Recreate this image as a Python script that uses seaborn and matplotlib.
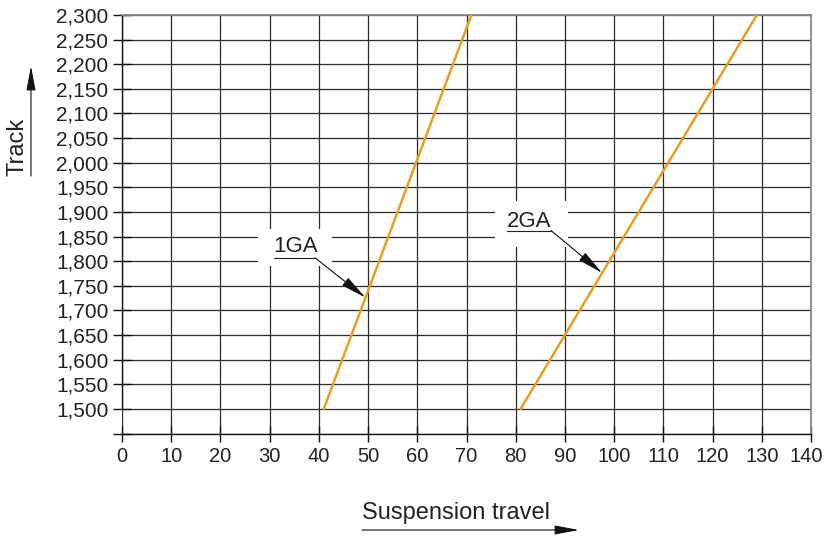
import matplotlib
matplotlib.use("Agg")
import matplotlib.pyplot as plt
import matplotlib.transforms as mtransforms
from matplotlib.patches import Rectangle, FancyArrowPatch
from matplotlib.ticker import FuncFormatter
import numpy as np
import pandas as pd
import seaborn as sns

# ---- data ----
series_names = ["1GA", "2GA"]
travel_1ga = [41, 71]
track_1ga = [1500, 2300]
travel_2ga = [81, 129]
track_2ga = [1500, 2300]
x_ticks = list(range(0, 141, 10))
y_ticks = list(range(1450, 2301, 50))
x_label = "Suspension travel"
y_label = "Track"

df = pd.DataFrame({
    "travel": travel_1ga + travel_2ga,
    "track": track_1ga + track_2ga,
    "series": [series_names[0]] * len(travel_1ga) + [series_names[1]] * len(travel_2ga),
})

sns.set_theme(style="white")
plt.rcParams["font.family"] = ["Liberation Sans", "DejaVu Sans"]
TXT = "#222222"
ORANGE = "#E89E22"

fig = plt.figure(figsize=(8.26, 5.36), dpi=100)
W, H = 826, 536
ax = fig.add_axes([122 / W, 1 - 433.5 / H, (811 - 122) / W, (433.5 - 15) / H])

sns.lineplot(data=df, x="travel", y="track", hue="series",
             palette=[ORANGE, ORANGE], legend=False, ax=ax,
             linewidth=1.8, zorder=5)

ax.set_xlim(0, 140)
ax.set_ylim(1450, 2300)
ax.set_xticks(x_ticks)
ax.set_yticks(y_ticks)
ax.yaxis.set_major_formatter(FuncFormatter(lambda v, p: "" if v < 1500 else f"{int(v):,}"))
ax.grid(True, color="#2a2a2a", linewidth=0.9)
ax.set_axisbelow(True)
ax.set_xlabel("")
ax.set_ylabel("")

for s in ["top", "right"]:
    ax.spines[s].set_color("#888888")
    ax.spines[s].set_linewidth(1.3)
ax.spines["left"].set_color("#111111")
ax.spines["left"].set_linewidth(1.0)
ax.spines["left"].set_bounds(1500, 2300)
ax.spines["bottom"].set_color("#111111")
ax.spines["bottom"].set_linewidth(1.0)

ax.tick_params(axis="y", direction="inout", length=13.5, width=1.0, color="#111111",
               labelsize=15, labelcolor=TXT, pad=3, left=True)
ax.tick_params(axis="x", direction="inout", length=11, width=1.0, color="#111111",
               labelsize=14.5, labelcolor=TXT, pad=4, bottom=True)

# ---- annotations ----
def annotate_series(name, xs, ys, text_x, text_y, under_y, under_end, tip_y, box):
    tip_x = float(np.interp(tip_y, ys, xs))
    bx0, by0, bx1, by1 = box
    ax.add_patch(Rectangle((bx0, by0), bx1 - bx0, by1 - by0, facecolor="white",
                           edgecolor="none", zorder=3))
    ax.text(text_x, text_y, name, fontsize=16, color=TXT, ha="left", va="baseline", zorder=6)
    ax.plot([text_x, under_end], [under_y, under_y], color="#222222", lw=0.8, zorder=6)
    ax.annotate("", xy=(tip_x, tip_y), xytext=(under_end, under_y),
                arrowprops=dict(arrowstyle="-|>,head_length=1.6,head_width=0.3",
                                mutation_scale=10, color="#111111", lw=0.8,
                                shrinkA=0, shrinkB=0), zorder=7)

annotate_series("1GA", travel_1ga, track_1ga, 30.8, 1818, 1807, 39.2, 1726,
                (27.6, 1791, 42.7, 1866))
annotate_series("2GA", travel_2ga, track_2ga, 78.3, 1870, 1862, 87.2, 1776,
                (75.8, 1828, 90.6, 1923))

# ---- axis labels with arrows ----
fig.text(17.5 / W, 1 - 176 / H, y_label, rotation=90, ha="center", va="bottom",
         fontsize=17, color=TXT)
fig.patches.append(FancyArrowPatch(
    (31 / W, 1 - 176 / H), (31 / W, 1 - 66 / H), transform=fig.transFigure,
    arrowstyle="-|>,head_length=1.5,head_width=0.28", mutation_scale=10,
    color="#111111", lw=0.8, shrinkA=0, shrinkB=0))

fig.text(362 / W, 1 - 519 / H, x_label, ha="left", va="baseline", fontsize=17, color=TXT)
fig.patches.append(FancyArrowPatch(
    (362 / W, 1 - 530 / H), (579 / W, 1 - 530 / H), transform=fig.transFigure,
    arrowstyle="-|>,head_length=1.5,head_width=0.28", mutation_scale=10,
    color="#111111", lw=0.8, shrinkA=0, shrinkB=0))

# nudge the last x tick label left so it stays inside the canvas
fig.canvas.draw()
last = ax.xaxis.get_major_ticks()[-1].label1
last.set_transform(last.get_transform() +
                   mtransforms.ScaledTranslation(-5 / 100, 0, fig.dpi_scale_trans))

fig.savefig("out.png", dpi=100)
